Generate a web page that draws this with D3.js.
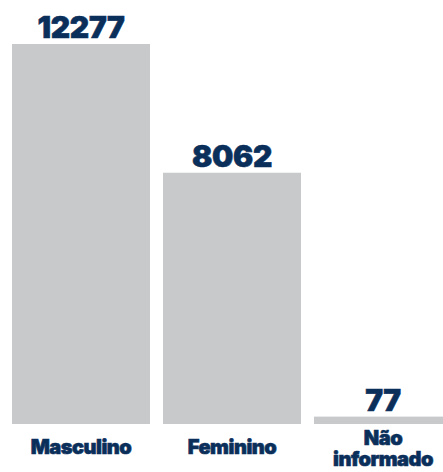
<!DOCTYPE html>
<html>
<head>
<meta charset="utf-8">
<script src="https://cdn.jsdelivr.net/npm/d3@7"></script>
<style>
  body { margin: 0; background: #fff; }
  text { font-family: Inter, "DejaVu Sans", sans-serif; font-weight: 900; fill: #0b2f5b; stroke: #0b2f5b; stroke-width: 0.6px; }
</style>
</head>
<body>
<div id="chart"></div>
<script>
// chart data
let categories = ['Masculino', 'Feminino', 'Não informado']
let values = [12277, 8062, 77]

let width = 443,
    height = 472

let svg = d3.select('#chart')
  .append('svg')
  .attr('width', width)
  .attr('height', height)

// bars sit on a common baseline, scale starts slightly under zero
let x = d3.scaleBand()
  .domain(categories)
  .range([12, 452])
  .paddingInner(13 / 151)
  .paddingOuter(0)

let y = d3.scaleLinear()
  .domain([-165, d3.max(values)])
  .range([424, 44])

let data = categories.map(function(c, i) { return {name: c, value: values[i]} })

svg.selectAll('.bar')
  .data(data)
  .enter().append('rect')
  .attr('class', 'bar')
  .attr('x', function(d) { return x(d.name) })
  .attr('y', function(d) { return y(d.value) })
  .attr('width', x.bandwidth())
  .attr('height', function(d) { return y(-165) - y(d.value) })
  .style('fill', '#c8c9cb')

// value labels above the bars
svg.selectAll('.value')
  .data(data)
  .enter().append('text')
  .attr('class', 'value')
  .attr('x', function(d) { return x(d.name) + x.bandwidth() / 2 })
  .attr('y', function(d) { return y(d.value) - 6 })
  .attr('text-anchor', 'middle')
  .style('font-size', '30px')
  .style('letter-spacing', '-0.3px')
  .text(function(d) { return d.value })

// category labels, may wrap on two lines
let labels = svg.selectAll('.cat')
  .data(data)
  .enter().append('text')
  .attr('class', 'cat')
  .attr('x', function(d) { return x(d.name) + x.bandwidth() / 2 })
  .attr('y', 454)
  .attr('text-anchor', 'middle')
  .style('font-size', '20px')
  .style('letter-spacing', '-0.5px')

labels.each(function(d) {
  let words = d.name.split(' ')
  let t = d3.select(this)
  let cx = x(d.name) + x.bandwidth() / 2
  if (words.length === 1) {
    t.text(d.name)
  } else {
    words.forEach(function(w, i) {
      t.append('tspan')
        .attr('x', cx)
        .attr('y', 445 + i * 21)
        .text(w)
    })
  }
})
</script>
</body>
</html>
